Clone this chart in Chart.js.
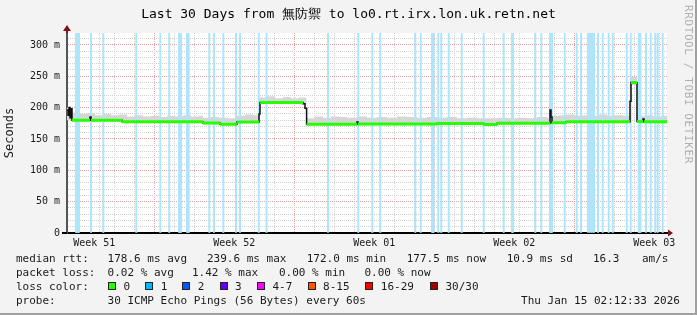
<!DOCTYPE html>
<html>
<head>
<meta charset="utf-8">
<script src="https://cdn.jsdelivr.net/npm/chart.js@4.4.1/dist/chart.umd.min.js"></script>
<style>
  body { margin: 0; background: #fff; }
  #wrap { position: relative; width: 697px; height: 315px; background: #f3f3f3;
          box-shadow: inset -2px -2px 0 #a0a0a0; overflow: hidden;
          font-family: 'DejaVu Sans Mono', monospace; font-size: 11px; color: #1a1a1a; }
  #chart { position: absolute; left: 0; top: 0; }
  .t { position: absolute; white-space: pre; line-height: 14px; }
  .sw { position: absolute; width: 6px; height: 6px; border: 1px solid #222; }
  #mark { position: absolute; left: 682px; top: 5px; writing-mode: vertical-rl; font-size: 11px;
          line-height: 12px; color: #b0b0b0; letter-spacing: 0.6px; }
</style>
</head>
<body>
<div id="wrap">
  <canvas id="chart" width="697" height="315"></canvas>
  <div id="mark">RRDTOOL / TOBI OETIKER</div>
  <div id="legend"></div>
</div>
<script>
// x values are days since the left edge of the graph
var medianDays = [0, 0.05, 0.1, 0.15, 0.2, 0.25, 1.15, 1.2, 2.75, 6.8, 7.65, 8.5, 9.6, 9.65, 11.8, 11.9, 11.98,
  14.5, 14.55, 18.5, 20.85, 21.5, 24.15, 24.2, 24.25, 24.95, 28.15, 28.2, 28.5, 28.8, 28.85, 30];
var medianRtt = [196, 188, 200, 184, 198, 180, 185, 180, 177.5, 175.3, 173.6, 177, 190, 208, 206, 199, 173.4,
  177, 174, 174.6, 173, 175, 196, 185, 176, 177.6, 210, 240, 178, 182, 177.5, 177.5];

var smokeDays = [0, 0.25, 0.6, 1.0, 1.4, 1.8, 2.2, 2.6, 3.0, 3.4,
  3.8, 4.2, 4.6, 5.0, 5.4, 5.8, 6.2, 6.6, 6.8, 7.2,
  7.6, 8.05, 8.5, 8.9, 9.3, 9.6, 10.0, 10.4, 10.8, 11.2,
  11.6, 11.97, 12.4, 12.8, 13.2, 13.6, 14.0, 14.5, 15.0, 15.5,
  16.0, 16.5, 17.0, 17.5, 18.0, 18.5, 19.0, 19.5, 20.0, 20.5,
  20.85, 21.5, 22.0, 22.5, 23.0, 23.5, 24.0, 24.15, 24.25, 24.6,
  24.95, 25.4, 25.8, 26.2, 26.6, 27.0, 27.4, 27.8, 28.15, 28.2,
  28.5, 28.9, 29.3, 29.7, 30];
var smokeHigh = [200, 192, 190, 191, 188, 190, 188, 189, 186, 188,
  186, 187, 185, 187, 186, 188, 186, 187, 184, 185,
  184, 183, 187, 189, 188, 216, 218, 215, 217, 215,
  216, 183, 186, 184, 186, 185, 184, 186, 184, 185,
  184, 186, 185, 184, 185, 184, 185, 183, 184, 183,
  183, 184, 183, 184, 183, 185, 184, 198, 187, 188,
  189, 187, 188, 187, 189, 187, 188, 187, 215, 249,
  187, 188, 186, 187, 187];
var smokeLow = [180, 178, 178, 178, 178, 178, 177, 177, 176, 176,
  176, 176, 176, 176, 176, 176, 176, 175, 173, 173,
  172, 172, 175, 175, 175, 206, 206, 206, 206, 206,
  205, 172, 172, 172, 172, 172, 172, 172, 172, 172,
  172, 172, 172, 172, 172, 173, 173, 173, 173, 173,
  171, 173, 173, 173, 173, 173, 173, 180, 174, 174,
  176, 176, 176, 176, 176, 176, 176, 176, 178, 236,
  176, 176, 176, 176, 176];

// days with packet loss (1 of 30)
var lossDays = [0.45, 0.5, 0.55, 0.6, 1.2, 1.815, 3.465, 4.665, 5.11, 5.6, 5.65, 5.7, 6.0, 6.05, 6.085,
  7.115, 7.35, 7.815, 8.45, 8.65, 9.585, 9.975, 13.05, 14.565, 15.265, 15.665, 17.415, 17.685,
  18.25, 18.3, 18.325, 18.565, 18.715, 19.085, 19.735, 20.835, 21.835, 22.25, 22.3, 23.415, 23.715,
  24.15, 24.2, 24.25, 24.885, 25.485, 25.7, 26.05, 26.15, 26.25, 26.35, 26.55, 26.785, 27.085, 27.285,
  27.985, 28.185, 28.585, 28.63, 28.675, 28.95, 29.185, 29.415, 29.535, 29.785];

var weekLabels = ['Week 51', 'Week 52', 'Week 01', 'Week 02', 'Week 03'];
var weekLabelDays = [1.365, 8.365, 15.365, 22.365, 29.365];
var weekStartDays = [4.865, 11.865, 18.865, 25.865];
var firstDayLine = 0.865;
var yMax = 319;

var rttStats = [178.6, 239.6, 172.0, 177.5, 10.9];
var rttNames = ['avg', 'max', 'min', 'now', 'sd'];
var ampsValue = 16.3;
var lossStats = [0.02, 1.42, 0.00, 0.00];
var lossNames = ['avg', 'max', 'min', 'now'];
var lossBins = ['0', '1', '2', '3', '4-7', '8-15', '16-29', '30/30'];
var lossColors = ['#26ff00', '#00b8ff', '#0059ff', '#5e00ff', '#ff00ff', '#ff5500', '#ff0000', '#a00000'];

function near(v, list) {
  return list.some(function (b) { return Math.abs(v - b) < 0.01; });
}

var xTicks = weekLabelDays.slice();
for (var d = firstDayLine; d < 30; d += 1) xTicks.push(d);
xTicks.sort(function (a, b) { return a - b; });
var yTicks = [];
for (var v = 0; v < yMax; v += 10) yTicks.push(v);

// green only on the flat parts, the steps stay black
var greenRuns = [];
for (var i = 0; i < medianDays.length - 1; i++) {
  if (medianDays[i + 1] - medianDays[i] < 0.2) continue;
  greenRuns.push({x: medianDays[i], y: medianRtt[i]}, {x: medianDays[i + 1], y: medianRtt[i]}, {x: medianDays[i + 1], y: null});
}

var plotBack = {
  id: 'plotBack',
  beforeDraw: function (chart) {
    var a = chart.chartArea;
    chart.ctx.save();
    chart.ctx.fillStyle = '#ffffff';
    chart.ctx.fillRect(a.left, a.top, a.right - a.left, a.bottom - a.top);
    chart.ctx.restore();
  }
};
var axisArrows = {
  id: 'axisArrows',
  afterDraw: function (chart) {
    var a = chart.chartArea, ctx = chart.ctx;
    ctx.save();
    ctx.fillStyle = '#7a1616';
    ctx.fillRect(a.left - 1, a.top - 3, 2, 3);
    ctx.beginPath(); ctx.moveTo(a.left - 4, a.top - 2); ctx.lineTo(a.left + 4, a.top - 2); ctx.lineTo(a.left, a.top - 8); ctx.fill();
    ctx.beginPath(); ctx.moveTo(a.right + 1, a.bottom - 3.5); ctx.lineTo(a.right + 1, a.bottom + 3.5); ctx.lineTo(a.right + 6, a.bottom); ctx.fill();
    ctx.fillStyle = '#000';
    ctx.fillRect(a.left - 5, a.bottom - 1, 5, 2);
    ctx.restore();
  }
};

Chart.defaults.font.family = "'DejaVu Sans Mono', monospace";
var ctx = document.getElementById('chart').getContext('2d');
var chart = new Chart(ctx, {
  type: 'line',
  data: {
    datasets: [{
      label: 'smoke low', data: smokeDays.map(function (d, i) { return {x: d, y: smokeLow[i]}; }),
      stepped: 'before', pointRadius: 0, borderWidth: 0, fill: false, order: 5
    }, {
      label: 'smoke', data: smokeDays.map(function (d, i) { return {x: d, y: smokeHigh[i]}; }),
      stepped: 'before', pointRadius: 0, borderWidth: 0, fill: '-1', backgroundColor: '#d6d6d6', order: 5
    }, {
      type: 'bar', label: 'loss', data: lossDays.map(function (d) { return {x: d, y: yMax}; }),
      backgroundColor: '#ade5fa', barThickness: 1.3, order: 4
    }, {
      label: 'median', data: medianDays.map(function (d, i) { return {x: d, y: medianRtt[i]}; }),
      stepped: 'before', pointRadius: 0, borderWidth: 1.5, borderColor: '#111111', fill: false, order: 2
    }, {
      label: 'median 0 loss', data: greenRuns, spanGaps: false,
      pointRadius: 0, borderWidth: 3, borderColor: '#26ff00', borderCapStyle: 'butt', fill: false, order: 1
    }]
  },
  options: {
    responsive: false,
    animation: false,
    events: [],
    layout: { padding: { top: 0, left: 0, right: 0, bottom: 67 } },
    plugins: {
      legend: { display: false },
      tooltip: { enabled: false },
      title: {
        display: true,
        text: 'Last 30 Days from 無防禦 to lo0.rt.irx.lon.uk.retn.net',
        color: '#000',
        font: { size: 13, weight: 'normal' },
        padding: { top: 7, bottom: 10.4 }
      }
    },
    scales: {
      x: {
        type: 'linear', min: 0, max: 30, offset: false,
        afterBuildTicks: function (s) { s.ticks = xTicks.map(function (t) { return {value: t}; }); },
        afterFit: function (s) { s.height = 15; },
        grid: {
          drawTicks: false,
          color: function (c) {
            var t = c.tick ? c.tick.value : -1;
            if (t < 0 || near(t, weekLabelDays)) return 'rgba(0,0,0,0)';
            return near(t, weekStartDays) ? '#e7a3a3' : '#d2d2d2';
          }
        },
        border: { color: '#000', width: 2, dash: [1, 1] },
        ticks: {
          autoSkip: false, maxRotation: 0, padding: 4, color: '#1a1a1a', font: { size: 10 },
          callback: function (val) {
            for (var k = 0; k < weekLabelDays.length; k++) {
              if (Math.abs(val - weekLabelDays[k]) < 0.01) return weekLabels[k];
            }
            return '';
          }
        }
      },
      y: {
        type: 'linear', min: 0, max: yMax,
        afterBuildTicks: function (s) { s.ticks = yTicks.map(function (t) { return {value: t}; }); },
        afterFit: function (s) { s.width = 67; },
        grid: {
          drawTicks: false,
          color: function (c) {
            var t = c.tick ? c.tick.value : -1;
            return t % 50 === 0 ? '#e7a3a3' : '#d2d2d2';
          }
        },
        border: { color: '#555', width: 2, dash: [1, 1] },
        title: { display: true, text: 'Seconds', color: '#1a1a1a', font: { size: 12 }, padding: { top: 3, bottom: 0 } },
        ticks: {
          autoSkip: false, padding: 7, color: '#1a1a1a', font: { size: 10 },
          callback: function (val) {
            if (val % 50 !== 0) return '';
            return val === 0 ? '0' : val + ' m';
          }
        }
      },
      yr: {
        type: 'linear', position: 'right', display: true,
        afterFit: function (s) { s.width = 30; },
        grid: { display: false }, border: { display: false }, ticks: { display: false }
      }
    }
  },
  plugins: [plotBack, axisArrows]
});

// text legend under the graph
var legend = document.getElementById('legend');
function put(text, left, center) {
  var el = document.createElement('div');
  el.className = 't';
  el.textContent = text;
  el.style.left = left + 'px';
  el.style.top = (center - 7) + 'px';
  legend.appendChild(el);
  return el;
}
var rttCols = [107.6, 207, 306.7, 406.7, 506.7];
put('median rtt:', 16, 259);
rttStats.forEach(function (s, i) { put(s.toFixed(1) + ' ms ' + rttNames[i], rttCols[i], 259); });
put(ampsValue.toFixed(1), 593, 259);
put('am/s', 642, 259);

var lossCols = [107.6, 192, 279, 364.4];
put('packet loss:', 16, 273);
lossStats.forEach(function (s, i) { put(s.toFixed(2) + ' % ' + lossNames[i], lossCols[i], 273); });

var swatchCols = [108, 145.3, 182.2, 219.6, 257, 307.6, 365.3, 430];
put('loss color:', 16, 287);
lossBins.forEach(function (b, i) {
  var sw = document.createElement('div');
  sw.className = 'sw';
  sw.style.left = swatchCols[i] + 'px';
  sw.style.top = '282px';
  sw.style.background = lossColors[i];
  legend.appendChild(sw);
  put(b, swatchCols[i] + 15.5, 287);
});

put('probe:', 16, 301);
put('30 ICMP Echo Pings (56 Bytes) every 60s', 107.6, 301);
var stamp = put('Thu Jan 15 02:12:33 2026', 0, 301);
stamp.style.left = 'auto';
stamp.style.right = '17px';
</script>
</body>
</html>
